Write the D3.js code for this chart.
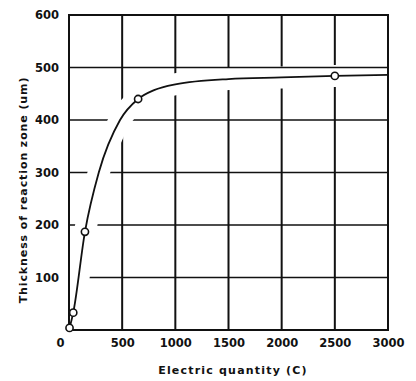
<!DOCTYPE html>
<html>
<head>
<meta charset="utf-8">
<script src="https://cdn.jsdelivr.net/npm/d3@7"></script>
<style>
  body { margin: 0; background: #fff; }
  svg { display: block; }
  text { font-family: "DejaVu Sans", sans-serif; font-weight: bold; fill: #111; }
</style>
</head>
<body>
<svg id="chart" width="416" height="381"></svg>
<script>
// measured points (electric quantity C, thickness um)
const charge = [5, 40, 150, 650, 2500];
const thickness = [4, 33, 187, 440, 484];

// smooth trend line
const lineCharge = [0, 40, 150, 280, 480, 650, 800, 1000, 1500, 2000, 2500, 3000];
const lineThick = [0, 33, 187, 300, 400, 440, 457, 468, 478, 481, 484, 486];

const xTicks = [0, 500, 1000, 1500, 2000, 2500, 3000];
const yTicks = [100, 200, 300, 400, 500, 600];

const svg = d3.select("#chart");
const x = d3.scaleLinear().domain([0, 3000]).range([69, 388]);
const y = d3.scaleLinear().domain([0, 600]).range([330, 15]);

const maxLine = d3.max(lineThick);
const grid = svg.append("g").attr("stroke", "#111");

// vertical grid lines
grid.selectAll(".vg").data(xTicks.slice(1, -1)).join("line")
	.attr("x1", d => x(d)).attr("x2", d => x(d))
	.attr("y1", y(600)).attr("y2", y(0))
	.attr("stroke-width", 2);

// horizontal lines that the curve crosses
grid.selectAll(".hg").data(yTicks.filter(d => d < maxLine)).join("line")
	.attr("x1", x(0)).attr("x2", x(3000))
	.attr("y1", d => y(d)).attr("y2", d => y(d))
	.attr("stroke-width", 1.4);

const line = d3.line()
	.x((d, i) => x(lineCharge[i]))
	.y(d => y(d))
	.curve(d3.curveMonotoneX);

// white gap round the curve, as in the original print
svg.append("path")
	.attr("d", line(lineThick))
	.attr("fill", "none")
	.attr("stroke", "#fff")
	.attr("stroke-width", 22);

svg.append("g").attr("stroke", "#111")
	.selectAll("line").data(yTicks.filter(d => d > maxLine && d < 600)).join("line")
	.attr("x1", x(0)).attr("x2", x(3000))
	.attr("y1", d => y(d)).attr("y2", d => y(d))
	.attr("stroke-width", 1.4);

// frame
svg.append("rect")
	.attr("x", x(0)).attr("y", y(600))
	.attr("width", x(3000) - x(0)).attr("height", y(0) - y(600))
	.attr("fill", "none").attr("stroke", "#111").attr("stroke-width", 2);

svg.append("path")
	.attr("d", line(lineThick))
	.attr("fill", "none")
	.attr("stroke", "#111")
	.attr("stroke-width", 1.8);

svg.append("g").selectAll("circle").data(charge).join("circle")
	.attr("cx", d => x(d))
	.attr("cy", (d, i) => y(thickness[i]))
	.attr("r", 3.6)
	.attr("fill", "#fff")
	.attr("stroke", "#111")
	.attr("stroke-width", 1.6);

// axes (labels only)
const xAxis = svg.append("g")
	.attr("transform", `translate(0,${y(0) + 6})`)
	.call(d3.axisBottom(x).tickValues(xTicks).tickSize(0).tickFormat(d3.format("d")));
xAxis.select(".domain").remove();
xAxis.selectAll("text")
	.attr("font-family", "DejaVu Sans").attr("font-weight", "bold")
	.attr("font-size", 11.5).attr("fill", "#111")
	.attr("dx", d => d === 0 ? -9 : 0);

const yAxis = svg.append("g")
	.attr("transform", `translate(${x(0) - 7},0)`)
	.call(d3.axisLeft(y).tickValues(yTicks).tickSize(0).tickFormat(d3.format("d")));
yAxis.select(".domain").remove();
yAxis.selectAll("text")
	.attr("font-family", "DejaVu Sans").attr("font-weight", "bold")
	.attr("font-size", 11.5).attr("fill", "#111");

svg.append("text")
	.attr("x", 233).attr("y", 374)
	.attr("text-anchor", "middle")
	.attr("font-size", 11)
	.attr("letter-spacing", 1.2)
	.text("Electric quantity  (C)");

svg.append("text")
	.attr("transform", "translate(27,190) rotate(-90)")
	.attr("text-anchor", "middle")
	.attr("font-size", 11)
	.attr("letter-spacing", 0.9)
	.text("Thickness  of  reaction  zone (um)");
</script>
</body>
</html>
